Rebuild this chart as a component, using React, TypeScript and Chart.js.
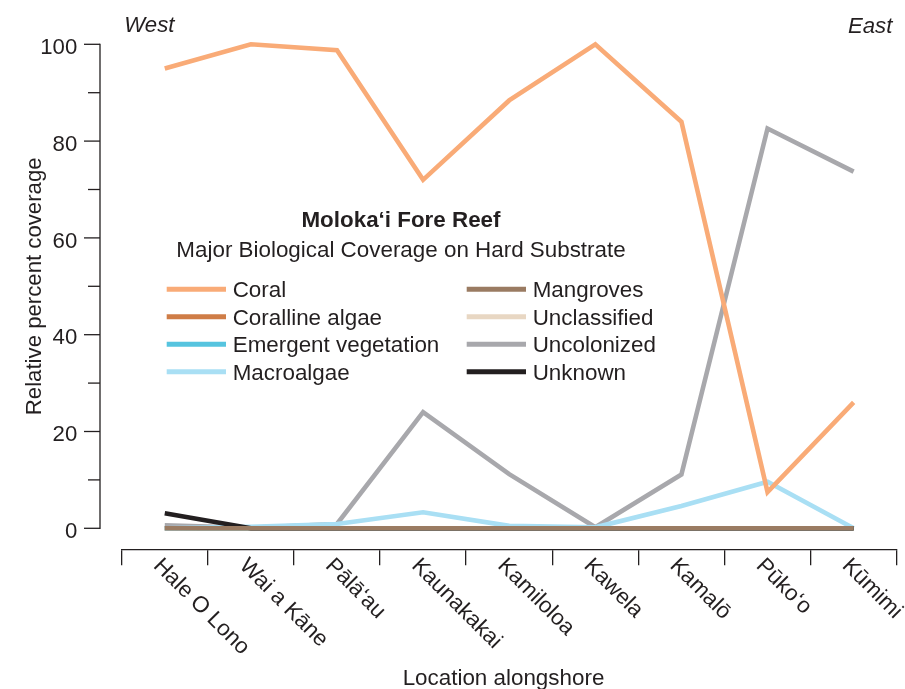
import React, { useEffect, useRef } from "react";
import { Chart, registerables } from "chart.js";

Chart.register(...registerables);

// ---- data ----
const LOCATIONS = [
  "Hale O Lono",
  "Wai a Kāne",
  "Pālā‘au",
  "Kaunakakai",
  "Kamiloloa",
  "Kawela",
  "Kamalō",
  "Pūko‘o",
  "Kūmimi",
];

const CORAL = [95, 100, 98.8, 72, 88.4, 100, 84, 7.5, 26];
const CORALLINE_ALGAE = [0, 0, 0, 0, 0, 0, 0, 0, 0];
const EMERGENT_VEGETATION = [0, 0, 0, 0, 0, 0, 0, 0, 0];
const MACROALGAE = [0, 0.3, 0.9, 3.3, 0.5, 0.2, 4.6, 9.6, 0];
const MANGROVES = [0, 0, 0, 0, 0, 0, 0, 0, 0];
const UNCLASSIFIED = [0, 0, 0, 0, 0, 0, 0, 0, 0];
const UNCOLONIZED = [0.6, 0.1, 0.9, 24, 11.2, 0.2, 11.1, 82.6, 73.7];
const UNKNOWN = [3.1, 0, 0, 0, 0, 0, 0, 0, 0];

const Y_MAJOR_TICKS = [0, 20, 40, 60, 80, 100];
const Y_MINOR_TICKS = [10, 30, 50, 70, 90];

const TITLE = "Moloka‘i Fore Reef";
const SUBTITLE = "Major Biological Coverage on Hard Substrate";
const Y_TITLE = "Relative percent coverage";
const X_TITLE = "Location alongshore";
const WEST = "West";
const EAST = "East";

const FONT = "'Liberation Sans', Arial, Helvetica, sans-serif";
const INK = "#231f20";

const axesPlugin = {
  id: "customAxes",
  afterDraw(chart: any) {
    const { ctx, chartArea, scales } = chart;
    const y = scales.y;
    const x = scales.x;
    const axisX = chartArea.left - 21.7;
    ctx.save();

    // y axis line and ticks
    ctx.strokeStyle = INK;
    ctx.lineWidth = 1.3;
    ctx.beginPath();
    ctx.moveTo(axisX, y.getPixelForValue(0) + 0.65);
    ctx.lineTo(axisX, y.getPixelForValue(100) - 0.65);
    ctx.stroke();
    Y_MAJOR_TICKS.forEach((v) => {
      const py = y.getPixelForValue(v);
      ctx.beginPath();
      ctx.moveTo(axisX - 16, py);
      ctx.lineTo(axisX, py);
      ctx.stroke();
    });
    Y_MINOR_TICKS.forEach((v) => {
      const py = y.getPixelForValue(v);
      ctx.beginPath();
      ctx.moveTo(axisX - 12, py);
      ctx.lineTo(axisX, py);
      ctx.stroke();
    });

    ctx.fillStyle = INK;
    ctx.font = `22.2px ${FONT}`;
    ctx.textAlign = "right";
    ctx.textBaseline = "alphabetic";
    Y_MAJOR_TICKS.forEach((v) => {
      const py = y.getPixelForValue(v);
      ctx.fillText(String(v), axisX - 22.7, py + 9.8);
    });

    // y title
    ctx.save();
    ctx.translate(40.5, (y.getPixelForValue(0) + y.getPixelForValue(100)) / 2);
    ctx.rotate(-Math.PI / 2);
    ctx.textAlign = "center";
    ctx.textBaseline = "alphabetic";
    ctx.font = `22.2px ${FONT}`;
    ctx.fillText(Y_TITLE, 0, 0);
    ctx.restore();

    // x tick labels, rotated clockwise
    ctx.font = `22.4px ${FONT}`;
    LOCATIONS.forEach((label, i) => {
      const cx = x.getPixelForValue(i);
      ctx.save();
      ctx.translate(cx - 8, chartArea.bottom + 13);
      ctx.rotate(Math.PI / 4);
      ctx.textAlign = "left";
      ctx.textBaseline = "middle";
      ctx.fillText(label, 0, 0);
      ctx.restore();
    });

    // x title
    ctx.font = `22.4px ${FONT}`;
    ctx.textAlign = "center";
    ctx.textBaseline = "alphabetic";
    ctx.fillText(X_TITLE, 503.5, 685);

    // West / East
    ctx.font = `italic 22.2px ${FONT}`;
    ctx.textAlign = "left";
    ctx.fillText(WEST, 124.3, 32);
    ctx.textAlign = "right";
    ctx.fillText(EAST, 892.3, 32.5);

    // legend title
    ctx.textAlign = "center";
    ctx.font = `bold 22.4px ${FONT}`;
    ctx.fillText(TITLE, 401, 226.7);
    ctx.font = `22.4px ${FONT}`;
    ctx.fillText(SUBTITLE, 401, 257);

    // legend items
    ctx.textAlign = "left";
    chart.data.datasets.forEach((ds: any, i: number) => {
      const col = Math.floor(i / 4);
      const row = i % 4;
      const sx = col === 0 ? 166.7 : 466.7;
      const sy = 289.3 + row * 27.5;
      ctx.strokeStyle = ds.borderColor;
      ctx.lineWidth = 5;
      ctx.lineCap = "butt";
      ctx.beginPath();
      ctx.moveTo(sx, sy);
      ctx.lineTo(sx + 59.3, sy);
      ctx.stroke();
      ctx.fillStyle = INK;
      ctx.fillText(ds.label, sx + 66, sy + 8);
    });

    ctx.restore();
  },
};

function line(label: string, data: number[], color: string, order: number) {
  return {
    label,
    data,
    borderColor: color,
    backgroundColor: color,
    borderWidth: 4.6,
    pointRadius: 0,
    pointHoverRadius: 0,
    tension: 0,
    borderJoinStyle: "miter" as const,
    borderCapStyle: "butt" as const,
    fill: false,
    clip: false as any,
    order,
  };
}

export default function App() {
  const canvasRef = useRef<HTMLCanvasElement | null>(null);

  useEffect(() => {
    if (!canvasRef.current) return;
    const chart = new Chart(canvasRef.current, {
      type: "line",
      data: {
        labels: LOCATIONS,
        datasets: [
          line("Coral", CORAL, "#f9ab77", 1),
          line("Coralline algae", CORALLINE_ALGAE, "#cf7d47", 6),
          line("Emergent vegetation", EMERGENT_VEGETATION, "#56c4df", 5),
          line("Macroalgae", MACROALGAE, "#a9dff4", 3),
          line("Mangroves", MANGROVES, "#9a7b62", 0),
          line("Unclassified", UNCLASSIFIED, "#e8d7c3", 7),
          line("Uncolonized", UNCOLONIZED, "#a8a8ac", 4),
          line("Unknown", UNKNOWN, "#231f20", 2),
        ],
      },
      options: {
        responsive: false,
        animation: false,
        devicePixelRatio: 1,
        layout: {
          padding: { left: 121.7, right: 8.3, top: 44.3, bottom: 123.7 },
        },
        plugins: {
          legend: { display: false },
          title: { display: false },
          tooltip: { enabled: false },
        },
        events: [],
        scales: {
          x: {
            type: "category",
            display: true,
            offset: true,
            grid: {
              display: true,
              offset: true,
              drawOnChartArea: false,
              drawTicks: true,
              tickLength: 16,
              color: INK,
              lineWidth: 1.3,
            },
            border: { display: true, color: INK, width: 1.3 },
            ticks: { display: false },
          },
          y: {
            type: "linear",
            display: false,
            min: -4.34,
            max: 100,
          },
        },
      },
      plugins: [axesPlugin],
    });
    return () => chart.destroy();
  }, []);

  return (
    <div style={{ position: "absolute", left: 0, top: 0, width: 905, height: 689, background: "#fff" }}>
      <canvas ref={canvasRef} width={905} height={689} style={{ display: "block" }} />
    </div>
  );
}
